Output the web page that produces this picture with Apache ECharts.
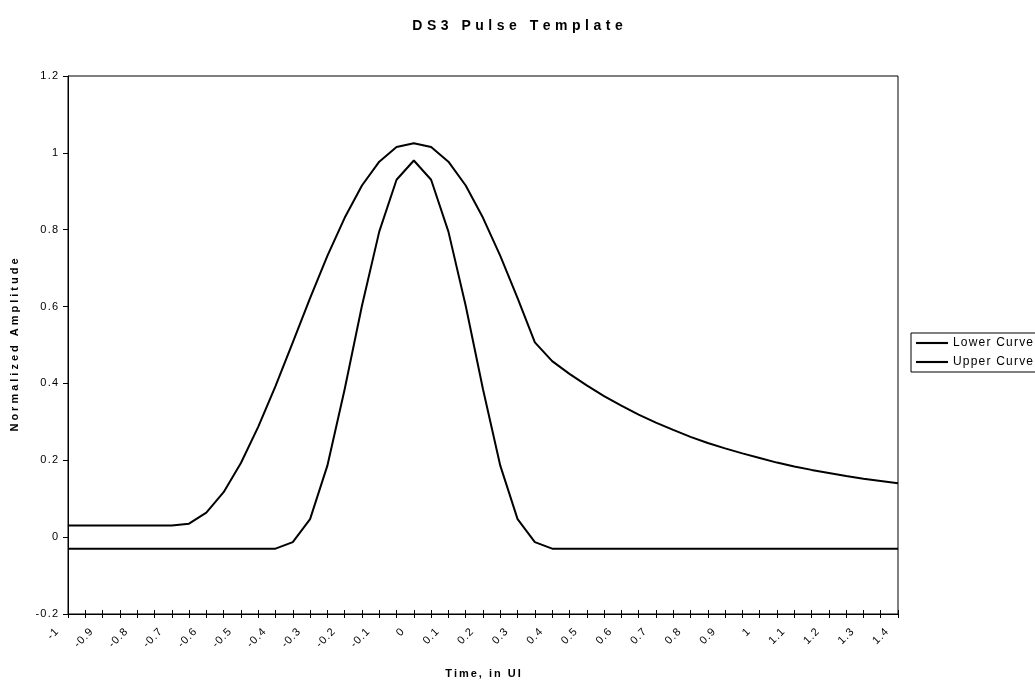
<!DOCTYPE html>
<html>
<head>
<meta charset="utf-8">
<title>DS3 Pulse Template</title>
<script src="https://cdn.jsdelivr.net/npm/echarts@6/dist/echarts.min.js"></script>
<style>
  html, body { margin: 0; padding: 0; background: #fff; }
  #chart { width: 1035px; height: 683px; }
</style>
</head>
<body>
<div id="chart"></div>
<script>
// time axis, in UI (every 0.05)
const timeUI = [
  '-1', '-0.95', '-0.9', '-0.85', '-0.8', '-0.75', '-0.7', '-0.65', '-0.6', '-0.55',
  '-0.5', '-0.45', '-0.4', '-0.35', '-0.3', '-0.25', '-0.2', '-0.15', '-0.1', '-0.05',
  '0', '0.05', '0.1', '0.15', '0.2', '0.25', '0.3', '0.35', '0.4', '0.45',
  '0.5', '0.55', '0.6', '0.65', '0.7', '0.75', '0.8', '0.85', '0.9', '0.95',
  '1', '1.05', '1.1', '1.15', '1.2', '1.25', '1.3', '1.35', '1.4'
]

const lowerCurve = [
  -0.03, -0.03, -0.03, -0.03, -0.03, -0.03, -0.03, -0.03, -0.03, -0.03,
  -0.03, -0.03, -0.03, -0.013, 0.047, 0.186, 0.385, 0.602, 0.795, 0.93,
  0.98, 0.93, 0.795, 0.602, 0.385, 0.186, 0.047, -0.013, -0.03, -0.03,
  -0.03, -0.03, -0.03, -0.03, -0.03, -0.03, -0.03, -0.03, -0.03, -0.03,
  -0.03, -0.03, -0.03, -0.03, -0.03, -0.03, -0.03, -0.03, -0.03
]

const upperCurve = [
  0.03, 0.03, 0.03, 0.03, 0.03, 0.03, 0.03, 0.035, 0.064, 0.117,
  0.193, 0.287, 0.393, 0.507, 0.622, 0.732, 0.831, 0.915, 0.977, 1.015,
  1.025, 1.015, 0.977, 0.915, 0.831, 0.732, 0.622, 0.507, 0.458, 0.425,
  0.395, 0.367, 0.342, 0.319, 0.298, 0.279, 0.261, 0.245, 0.231, 0.218,
  0.206, 0.194, 0.184, 0.175, 0.167, 0.159, 0.152, 0.146, 0.14
]

const seriesNames = ['Lower Curve', 'Upper Curve']

const font = 'Liberation Sans, Arial, sans-serif'

// the original was rendered with wide letter spacing; fake it with one rich token per char
function spaced(text, key) {
  const chars = String(text).split('')
  return chars.map((ch, i) => `{${i === chars.length - 1 ? key + 'L' : key}|${ch}}`).join('')
}

function spacedRich(key, size, weight, gap) {
  const base = { fontSize: size, fontWeight: weight, fontFamily: font, color: '#000' }
  return {
    [key]: Object.assign({ padding: [0, gap, 0, 0] }, base),
    [key + 'L']: Object.assign({}, base)
  }
}

const chart = echarts.init(document.getElementById('chart'))

const option = {
  animation: false,
  backgroundColor: '#fff',
  textStyle: { fontFamily: font, color: '#000' },
  title: {
    text: spaced('DS3 Pulse Template', 't'),
    left: 'center',
    top: 14,
    textStyle: { fontSize: 14, fontWeight: 'bold', rich: spacedRich('t', 14, 'bold', 4.5) }
  },
  legend: {
    orient: 'vertical',
    left: 911,
    top: 333,
    data: seriesNames,
    formatter: name => spaced(name, 'l'),
    itemWidth: 32,
    itemHeight: 10,
    itemGap: 7,
    padding: [4, 40, 4, 5],
    borderColor: '#000',
    borderWidth: 1,
    icon: 'path://M0,0 L30,0 L30,2 L0,2 Z',
    textStyle: { fontSize: 12, rich: spacedRich('l', 12, 'normal', 1.2) }
  },
  grid: {
    left: 68,
    right: 137,
    top: 76,
    bottom: 69,
    outerBoundsMode: 'none',
    show: true,
    borderColor: '#000',
    borderWidth: 1
  },
  xAxis: [
    {
      type: 'category',
      data: timeUI,
      boundaryGap: false,
      position: 'bottom',
      name: spaced('Time, in UI', 'n'),
      nameLocation: 'middle',
      nameGap: 54,
      nameTextStyle: { fontSize: 11, fontWeight: 'bold', rich: spacedRich('n', 11, 'bold', 2) },
      axisLine: { onZero: false, lineStyle: { color: '#000', width: 1 } },
      axisTick: { show: true, interval: 0, length: 4, lineStyle: { color: '#000' } },
      axisLabel: {
        interval: 1,
        rotate: 45,
        margin: 5,
        padding: [0, 16, 0, 0],
        formatter: v => spaced(v, 'x'),
        rich: spacedRich('x', 11, 'normal', 1)
      },
      splitLine: { show: false }
    },
    {
      // inner half of the cross ticks
      type: 'category',
      data: timeUI,
      boundaryGap: false,
      position: 'bottom',
      axisLine: { show: false, onZero: false },
      axisTick: { show: true, inside: true, interval: 0, length: 4, lineStyle: { color: '#000' } },
      axisLabel: { show: false },
      splitLine: { show: false }
    }
  ],
  yAxis: {
    type: 'value',
    min: -0.2,
    max: 1.2,
    interval: 0.2,
    name: spaced('Normalized Amplitude', 'y'),
    nameLocation: 'middle',
    nameGap: 48,
    nameTextStyle: { fontSize: 11, fontWeight: 'bold', rich: spacedRich('y', 11, 'bold', 3) },
    axisLine: { show: true, lineStyle: { color: '#000', width: 1 } },
    axisTick: { show: true, length: 5, lineStyle: { color: '#000' } },
    axisLabel: {
      margin: 10,
      formatter: v => spaced(+v.toFixed(1), 'v'),
      rich: spacedRich('v', 11, 'normal', 1.2)
    },
    splitLine: { show: false }
  },
  series: [
    {
      name: seriesNames[0],
      type: 'line',
      data: lowerCurve,
      symbol: 'none',
      lineStyle: { color: '#000', width: 2 },
      itemStyle: { color: '#000' }
    },
    {
      name: seriesNames[1],
      type: 'line',
      data: upperCurve,
      symbol: 'none',
      lineStyle: { color: '#000', width: 2 },
      itemStyle: { color: '#000' }
    }
  ]
}

chart.setOption(option)
</script>
</body>
</html>
